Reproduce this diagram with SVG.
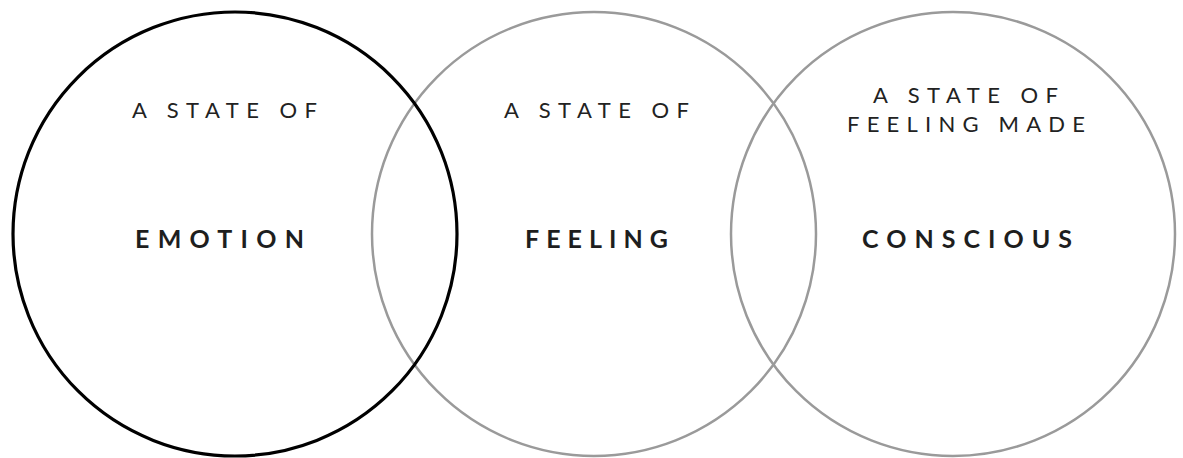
<svg xmlns="http://www.w3.org/2000/svg" width="1183" height="458" viewBox="0 0 1183 458">
<style>
.ring{fill:none;stroke:#9a9a9a;stroke-width:2.5}
.ring1{fill:none;stroke:#000;stroke-width:3.2}
.sub{font-family:Lato,"Liberation Sans",sans-serif;font-size:22px;font-weight:400;fill:#222}
.main{font-family:Lato,"Liberation Sans",sans-serif;font-size:25px;font-weight:700;fill:#1e1e1e}
</style>
<rect width="1183" height="458" fill="#fff"/>
<g id="feeling">
<circle class="ring" cx="594" cy="234" r="222"/>
<text class="sub" x="504" y="118" textLength="185" lengthAdjust="spacing">A STATE OF</text>
<text class="main" x="525" y="248" textLength="143" lengthAdjust="spacing">FEELING</text>
</g>
<g id="conscious">
<circle class="ring" cx="953" cy="234" r="222"/>
<text class="sub" x="873" y="103" textLength="185" lengthAdjust="spacing">A STATE OF</text>
<text class="sub" x="847" y="132" textLength="238" lengthAdjust="spacing">FEELING MADE</text>
<text class="main" x="862" y="248" textLength="210" lengthAdjust="spacing">CONSCIOUS</text>
</g>
<g id="emotion">
<circle class="ring1" cx="235" cy="234" r="222"/>
<text class="sub" x="132" y="118" textLength="185" lengthAdjust="spacing">A STATE OF</text>
<text class="main" x="135" y="248" textLength="169" lengthAdjust="spacing">EMOTION</text>
</g>
<g id="connectors"/>
</svg>
